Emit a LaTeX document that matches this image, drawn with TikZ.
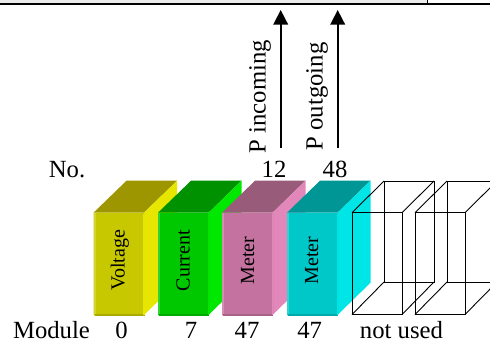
\documentclass[tikz,border=0pt]{standalone}
\usepackage{fontspec}
\setmainfont{Liberation Serif}
\usetikzlibrary{arrows.meta}
\definecolor{volF}{RGB}{200,200,0}\definecolor{volS}{RGB}{230,230,0}\definecolor{volT}{RGB}{158,150,0}
\definecolor{curF}{RGB}{0,200,0}\definecolor{curS}{RGB}{0,232,0}\definecolor{curT}{RGB}{0,145,0}
\definecolor{metF}{RGB}{196,115,160}\definecolor{metS}{RGB}{226,135,185}\definecolor{metT}{RGB}{152,92,122}
\definecolor{cyaF}{RGB}{0,200,200}\definecolor{cyaS}{RGB}{0,230,230}\definecolor{cyaT}{RGB}{0,150,150}
\newcommand{\solidbox}[2]{%
  \fill[#2T] (#1,212.7) -- ++(33,-32) -- ++(50.5,0) -- ++(-33,32) -- cycle;
  \fill[#2S] (#1+50.5,212.7) -- ++(33,-32) -- ++(0,102) -- (#1+50.5,315) -- cycle;
  \fill[#2F,rounded corners=1pt] (#1,212.7) rectangle (#1+51,315.5);
  \fill[#2F!80!white] (#1,213) rectangle (#1+2,314);
  \fill[#2F!85!black] (#1+1,313.5) rectangle (#1+51,315.5);
  \fill[#2S] (#1+49.5,214) rectangle (#1+51,315);
}
\newcommand{\wirebox}[1]{%
  \draw[wire] (#1,212.7) rectangle (#1+50,314.5);
  \draw[wire] (#1+32,181) -- (#1+82,181) -- (#1+82,282) -- (#1+32,282) -- cycle;
  \draw[wire] (#1,212.7) -- (#1+32,181) (#1+50,212.7) -- (#1+82,181)
              (#1,314.5) -- (#1+32,282) (#1+50,314.5) -- (#1+82,282);
}
\tikzset{
  lbl/.style={font=\fontsize{24.7}{24.7}\selectfont,text=black,inner sep=0pt,anchor=base},
  vlbl/.style={font=\fontsize{20}{20}\selectfont,text=black,inner sep=0pt,rotate=90,anchor=base},
  plbl/.style={font=\fontsize{24.7}{24.7}\selectfont,text=black,inner sep=0pt,rotate=90,anchor=base west},
  wire/.style={draw=black,line width=0.9pt},
  uparrow/.style={draw=black,line width=1.6pt,-{Triangle[length=14.5pt,width=14.5pt]}},
  rule/.style={draw=black,line width=2pt}
}
\begin{document}
\begin{tikzpicture}[x=1pt,y=-1pt]
\useasboundingbox (0,0) rectangle (490,341);
\fill[black!8] (0,0) rectangle (427,3);
\coordinate (ruleL) at (0,4.3);
\coordinate (ruleR) at (490,4.3);
\coordinate (ruleT) at (427.3,0);
\coordinate (ruleB) at (427.3,4);
\draw[rule] (ruleL) -- (ruleR);
\draw[draw=black,line width=1.5pt] (ruleT) -- (ruleB);
\solidbox{93.5}{vol}
\solidbox{158}{cur}
\solidbox{222}{met}
\solidbox{287}{cya}
\begin{scope}
\clip (0,0) rectangle (490,341);
\wirebox{352}
\wirebox{415}
\end{scope}
\node[vlbl] (voltage) at (124.5,260.5) {Voltage};
\node[vlbl] (current) at (189.5,260.5) {Current};
\node[vlbl] (meterA) at (254,260.5) {Meter};
\node[vlbl] (meterB) at (318,260.5) {Meter};
\node[lbl] (no) at (67,177.5) {No.};
\node[lbl] (n12) at (274,177.5) {12};
\node[lbl] (n48) at (335,177.5) {48};
\node[lbl] (module) at (51.5,338.5) {Module};
\node[lbl] (m0) at (121.5,338.5) {0};
\node[lbl] (m7) at (191,338.5) {7};
\node[lbl] (m47a) at (247,338.5) {47};
\node[lbl] (m47b) at (309.6,338.5) {47};
\node[lbl] (unused) at (401.5,338.5) {not used};
\node[plbl] (pin) at (265.7,153.5) {P incoming};
\node[plbl] (pout) at (322.5,150.5) {P outgoing};
\coordinate (a1s) at (280.7,148);
\coordinate (a1e) at (280.7,10);
\coordinate (a2s) at (337.7,148);
\coordinate (a2e) at (337.7,10);
\draw[uparrow] (a1s) -- (a1e);
\draw[uparrow] (a2s) -- (a2e);
\end{tikzpicture}
\end{document}
